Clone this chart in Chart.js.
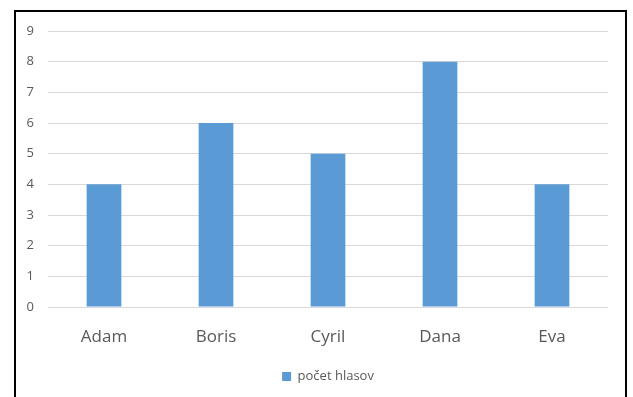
<!DOCTYPE html>
<html>
<head>
<meta charset="utf-8">
<script src="https://cdn.jsdelivr.net/npm/chart.js@4"></script>
<style>
  html, body { margin: 0; padding: 0; background: #fff; overflow: hidden; }
  #wrap { position: relative; width: 633px; height: 397px; }
  #frame { position: absolute; left: 14px; top: 10px; width: 609px; height: 400px;
           border: 2px solid #000; pointer-events: none; }
  canvas { position: absolute; left: 0; top: 0; }
</style>
</head>
<body>
<div id="wrap">
  <canvas id="c" width="633" height="397"></canvas>
  <div id="frame"></div>
</div>
<script>
const categories = ['Adam', 'Boris', 'Cyril', 'Dana', 'Eva'];
const votes = [4, 6, 5, 8, 4];
const seriesName = 'počet hlasov';

const grey = '#595959';

// legend sits centred under the plot area, not the whole canvas
const centreLegend = {
  id: 'centreLegend',
  afterLayout(chart) {
    const lg = chart.legend, ca = chart.chartArea;
    if (!lg) return;
    const shift = (ca.left + ca.right) / 2 - (lg.left + lg.right) / 2;
    lg.left += shift;
    lg.right += shift;
  }
};

new Chart(document.getElementById('c').getContext('2d'), {
  type: 'bar',
  data: {
    labels: categories,
    datasets: [{
      label: seriesName,
      data: votes,
      backgroundColor: '#5b9bd5',
      categoryPercentage: 1,
      barPercentage: 0.31
    }]
  },
  options: {
    responsive: false,
    animation: false,
    layout: { padding: { top: 31, right: 25, left: 0, bottom: 4 } },
    plugins: {
      tooltip: { enabled: false },
      legend: {
        position: 'bottom',
        labels: {
          color: grey,
          boxWidth: 9,
          boxHeight: 9,
          padding: 10,
          font: { family: 'Open Sans', size: 13 }
        }
      }
    },
    scales: {
      x: {
        grid: { display: false },
        border: { display: false },
        ticks: { color: grey, font: { family: 'Open Sans', size: 17 }, padding: 12 },
        afterFit: (s) => { s.height = 53; }
      },
      y: {
        min: 0,
        max: 9,
        grid: { color: '#d9d9d9', drawTicks: false, lineWidth: 1 },
        border: { display: false },
        ticks: { stepSize: 1, color: grey, font: { family: 'Open Sans', size: 13 }, padding: 14 },
        afterFit: (s) => { s.width = 48; }
      }
    }
  },
  plugins: [centreLegend]
});
</script>
</body>
</html>
